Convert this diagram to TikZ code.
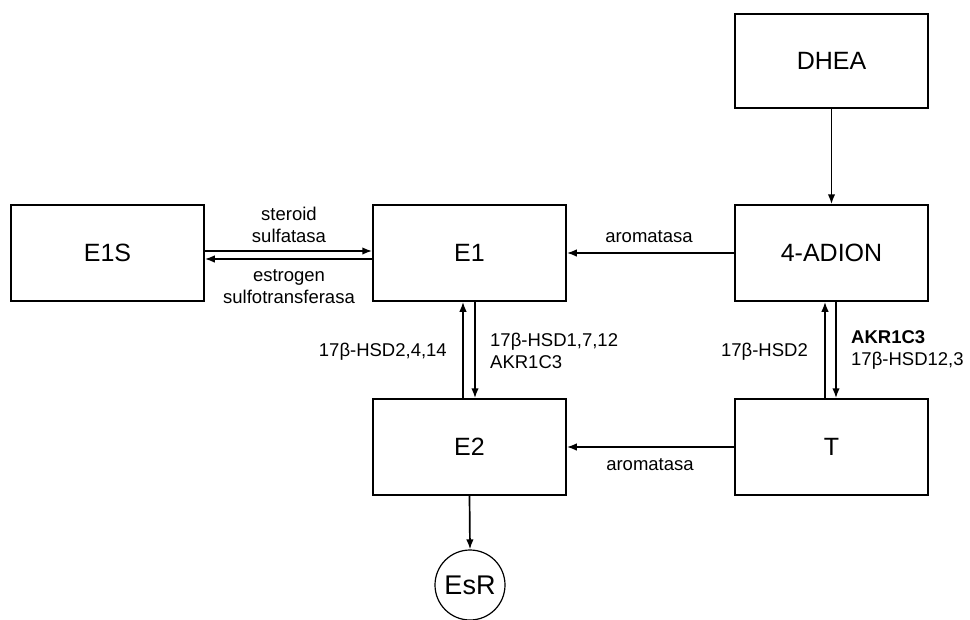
\documentclass[tikz,border=0pt]{standalone}
\usepackage{fontspec}
\setmainfont{Liberation Sans}
\usetikzlibrary{arrows.meta}
\begin{document}
\begin{tikzpicture}[x=1pt,y=-1pt,
  box/.style={draw, line width=1.5pt, rectangle, minimum width=193pt, minimum height=96pt, inner sep=0pt,
    font=\fontsize{25}{30}\selectfont},
  recep/.style={draw, line width=1.2pt, circle, minimum size=70pt, inner sep=0pt,
    font=\fontsize{27}{32}\selectfont},
  arr/.style={line width=1.7pt, -{Latex[length=10pt,width=7.5pt]}},
  lbl/.style={font=\fontsize{18.5}{22}\selectfont, inner sep=0pt}]
\useasboundingbox (0,0) rectangle (970,619);

% metabolites
\node[box, minimum height=94pt] (DHEA) at (831.5,61) {DHEA};
\node[box] (E1S)   at (107.5,253) {E1S};
\node[box] (E1)    at (469.5,253) {E1};
\node[box] (ADION) at (831.5,253) {4-ADION};
\node[box] (E2)    at (469.5,447) {E2};
\node[box] (T)     at (831.5,447) {T};
\node[recep] (EsR) at (470,585) {EsR};

% conversions
\draw[arr] ([yshift=2pt]E1S.east) -- ([yshift=2pt]E1.west);
\draw[arr] ([yshift=-6pt]E1.west) -- ([yshift=-6pt]E1S.east);
\draw[arr] (ADION.west) -- (E1.east);
\draw[arr] (T.west) -- (E2.east);
\draw[arr] (DHEA.south) -- (ADION.north);
\draw[arr] ([xshift=-6.5pt]E2.north) -- ([xshift=-6.5pt]E1.south);
\draw[arr] ([xshift=5.5pt]E1.south) -- ([xshift=5.5pt]E2.north);
\draw[arr] ([xshift=-6.5pt]T.north) -- ([xshift=-6.5pt]ADION.south);
\draw[arr] ([xshift=4.5pt]ADION.south) -- ([xshift=4.5pt]T.north);
\draw[arr] (E2.south) -- (EsR.north);

% enzymes
\node[lbl, align=center] (sulf) at (289,224.5) {steroid\\sulfatasa};
\node[lbl, align=center] (sult) at (289,287) {estrogen\\sulfotransferasa};
\node[lbl] (aro1) at (649,237) {aromatasa};
\node[lbl] (aro2) at (650,465) {aromatasa};
\node[lbl, anchor=east] (hsdA) at (447,352) {17β-HSD2,4,14};
\node[lbl, anchor=west, align=left] (hsdB) at (490,351) {17β-HSD1,7,12\\AKR1C3};
\node[lbl, anchor=east] (hsdC) at (808,352) {17β-HSD2};
\node[lbl, anchor=west, align=left] (hsdD) at (851,350) {\textbf{AKR1C3}\\17β-HSD12,3};
\end{tikzpicture}
\end{document}
